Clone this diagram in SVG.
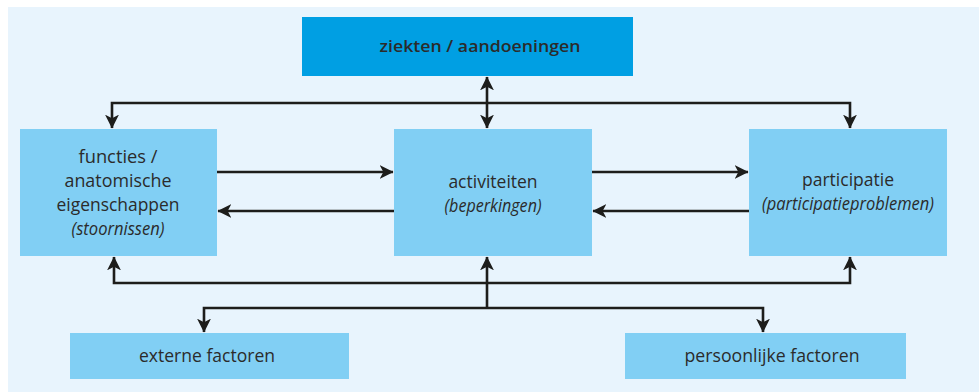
<svg xmlns="http://www.w3.org/2000/svg" width="979" height="392" viewBox="0 0 979 392">
<defs>
<marker id="ah" viewBox="0 0 13 14" refX="12.5" refY="7" markerWidth="14" markerHeight="15" markerUnits="userSpaceOnUse" orient="auto-start-reverse">
<path d="M0,0.5 L13,7 L0,13.5 L3.5,7 Z" fill="#1d1d1b"/>
</marker>
</defs>
<style>
.box{fill:#81cff4}
.top{fill:#009fe3}
.t{font-family:"Open Sans","Liberation Sans",sans-serif;font-size:17.5px;fill:#2b2b2b;text-anchor:middle}
.b{font-weight:600;font-size:17px}
.i{font-style:italic}
.c{fill:none;stroke:#1d1d1b;stroke-width:2.6}
.a{marker-end:url(#ah)}
</style>
<rect x="8" y="7" width="971" height="385" fill="#e8f4fd"/>
<g id="ziekten">
<rect class="top" x="302" y="17" width="331" height="59"/>
<text class="t b" x="480" y="52" textLength="201" lengthAdjust="spacingAndGlyphs">ziekten / aandoeningen</text>
</g>
<g id="functies">
<rect class="box" x="20" y="129" width="197" height="127"/>
<text class="t" x="118" y="163" textLength="79" lengthAdjust="spacingAndGlyphs">functies /</text>
<text class="t" x="118" y="187" textLength="107" lengthAdjust="spacingAndGlyphs">anatomische</text>
<text class="t" x="118" y="211" textLength="123" lengthAdjust="spacingAndGlyphs">eigenschappen</text>
<text class="t i" x="118" y="235" textLength="93" lengthAdjust="spacingAndGlyphs">(stoornissen)</text>
</g>
<g id="activiteiten">
<rect class="box" x="394" y="129" width="198" height="127"/>
<text class="t" x="493" y="188">activiteiten</text>
<text class="t i" x="493" y="212" textLength="97" lengthAdjust="spacingAndGlyphs">(beperkingen)</text>
</g>
<g id="participatie">
<rect class="box" x="749" y="129" width="198" height="127"/>
<text class="t" x="848" y="186" textLength="92" lengthAdjust="spacingAndGlyphs">participatie</text>
<text class="t i" x="848" y="210" textLength="172" lengthAdjust="spacingAndGlyphs">(participatieproblemen)</text>
</g>
<g id="externe">
<rect class="box" x="70" y="333" width="279" height="46"/>
<text class="t" x="207" y="362" textLength="136" lengthAdjust="spacingAndGlyphs">externe factoren</text>
</g>
<g id="persoonlijke">
<rect class="box" x="625" y="333" width="281" height="46"/>
<text class="t" x="772" y="362" textLength="175" lengthAdjust="spacingAndGlyphs">persoonlijke factoren</text>
</g>
<g id="connectors">
<path class="c" d="M487,77 V128" marker-start="url(#ah)" marker-end="url(#ah)"/>
<path class="c a" d="M487,103 H112 V128"/>
<path class="c a" d="M487,103 H850 V128"/>
<path class="c a" d="M217,172 H393"/>
<path class="c a" d="M394,211 H218"/>
<path class="c a" d="M592,172 H748"/>
<path class="c a" d="M749,211 H593"/>
<path class="c a" d="M487,283 H114 V257"/>
<path class="c a" d="M487,283 H850 V257"/>
<path class="c a" d="M487,308 V257"/>
<path class="c a" d="M487,308 H204 V332"/>
<path class="c a" d="M487,308 H763 V332"/>
</g>
</svg>
